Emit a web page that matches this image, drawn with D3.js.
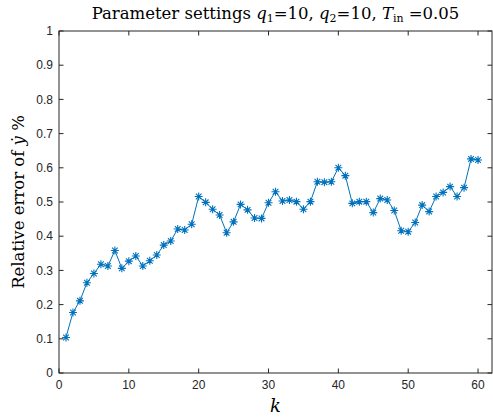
<!DOCTYPE html>
<html>
<head>
<meta charset="utf-8">
<script src="https://cdn.jsdelivr.net/npm/d3@7"></script>
<style>
  body { margin: 0; background: #fff; }
  svg { display: block; }
</style>
</head>
<body>
<div id="chart"></div>
<script>
// data
var kValues = d3.range(1, 61);
var errValues = [
  0.104, 0.177, 0.211, 0.264, 0.291, 0.318, 0.313, 0.358, 0.306, 0.327,
  0.342, 0.313, 0.328, 0.345, 0.374, 0.386, 0.421, 0.418, 0.435, 0.516,
  0.499, 0.479, 0.462, 0.410, 0.442, 0.493, 0.477, 0.453, 0.452, 0.498,
  0.530, 0.503, 0.506, 0.501, 0.479, 0.501, 0.559, 0.558, 0.559, 0.600,
  0.577, 0.496, 0.501, 0.501, 0.469, 0.510, 0.506, 0.475, 0.416, 0.413,
  0.440, 0.491, 0.472, 0.516, 0.528, 0.545, 0.516, 0.542, 0.626, 0.623
];
var xTicks = [0, 10, 20, 30, 40, 50, 60];
var yTicks = [0, 0.1, 0.2, 0.3, 0.4, 0.5, 0.6, 0.7, 0.8, 0.9, 1];

var W = 493, H = 418;
var margin = {top: 31, right: 1, bottom: 45, left: 59};

var svg = d3.select("#chart").append("svg")
    .attr("width", W)
    .attr("height", H);

var x = d3.scaleLinear().domain([0, 62]).range([margin.left, W - margin.right]);
var y = d3.scaleLinear().domain([0, 1]).range([H - margin.bottom, margin.top]);

var axisColor = "#262626";
var tickLen = 4.5;

// axes box
var g = svg.append("g");
g.append("rect")
    .attr("x", x(0)).attr("y", y(1))
    .attr("width", x(62) - x(0)).attr("height", y(0) - y(1))
    .attr("fill", "none").attr("stroke", axisColor).attr("stroke-width", 1);

// ticks (inward, on all four sides)
xTicks.forEach(function(t) {
  g.append("line").attr("x1", x(t)).attr("x2", x(t))
    .attr("y1", y(0)).attr("y2", y(0) - tickLen).attr("stroke", axisColor);
  g.append("line").attr("x1", x(t)).attr("x2", x(t))
    .attr("y1", y(1)).attr("y2", y(1) + tickLen).attr("stroke", axisColor);
  g.append("text").attr("x", x(t)).attr("y", y(0) + 16)
    .attr("text-anchor", "middle")
    .style("font-family", "Liberation Sans, Arial, sans-serif")
    .style("font-size", "12px").attr("fill", axisColor)
    .text(t);
});
yTicks.forEach(function(t) {
  g.append("line").attr("x1", x(0)).attr("x2", x(0) + tickLen)
    .attr("y1", y(t)).attr("y2", y(t)).attr("stroke", axisColor);
  g.append("line").attr("x1", x(62)).attr("x2", x(62) - tickLen)
    .attr("y1", y(t)).attr("y2", y(t)).attr("stroke", axisColor);
  g.append("text").attr("x", x(0) - 6).attr("y", y(t)).attr("dy", "0.35em")
    .attr("text-anchor", "end")
    .style("font-family", "Liberation Sans, Arial, sans-serif")
    .style("font-size", "12px").attr("fill", axisColor)
    .text(t);
});

// line
var lineColor = "#0072BD";
var data = kValues.map(function(k, i) { return {k: k, v: errValues[i]}; });

svg.append("path")
    .datum(data)
    .attr("fill", "none")
    .attr("stroke", lineColor)
    .attr("stroke-width", 1)
    .attr("d", d3.line().x(function(d) { return x(d.k); }).y(function(d) { return y(d.v); }));

// asterisk markers
var r = 4;
var star = "M" + (-r) + ",0L" + r + ",0" +
           "M0," + (-r) + "L0," + r +
           "M" + (-r * 0.71) + "," + (-r * 0.71) + "L" + (r * 0.71) + "," + (r * 0.71) +
           "M" + (-r * 0.71) + "," + (r * 0.71) + "L" + (r * 0.71) + "," + (-r * 0.71);
svg.append("g").selectAll("path")
    .data(data)
    .enter().append("path")
      .attr("transform", function(d) { return "translate(" + x(d.k) + "," + y(d.v) + ")"; })
      .attr("d", star)
      .attr("fill", "none")
      .attr("stroke", lineColor)
      .attr("stroke-width", 1.1);

// title
var serif = "'DejaVu Serif', serif";
var title = svg.append("text")
    .attr("x", (x(0) + x(62)) / 2).attr("y", 19)
    .attr("text-anchor", "middle")
    .style("font-family", serif).style("font-size", "16.5px").attr("fill", "#000");
title.append("tspan").text("Parameter settings ");
title.append("tspan").style("font-style", "italic").text("q");
title.append("tspan").attr("dy", 3).style("font-size", "11px").text("1");
title.append("tspan").attr("dy", -3).text("=10, ");
title.append("tspan").style("font-style", "italic").text("q");
title.append("tspan").attr("dy", 3).style("font-size", "11px").text("2");
title.append("tspan").attr("dy", -3).text("=10, ");
title.append("tspan").style("font-style", "italic").text("T");
title.append("tspan").attr("dy", 3).style("font-size", "11px").text("in");
title.append("tspan").attr("dy", -3).text(" =0.05");

// x label
svg.append("text")
    .attr("x", (x(0) + x(62)) / 2).attr("y", 412)
    .attr("text-anchor", "middle")
    .style("font-family", serif).style("font-size", "18px").style("font-style", "italic")
    .text("k");

// y label
var yl = svg.append("text")
    .attr("transform", "translate(24," + y(0.5) + ") rotate(-90)")
    .attr("text-anchor", "middle")
    .style("font-family", serif).style("font-size", "16.5px");
yl.append("tspan").text("Relative error of ");
yl.append("tspan").style("font-style", "italic").text("\u1E8F");
yl.append("tspan").text(" %");
</script>
</body>
</html>
